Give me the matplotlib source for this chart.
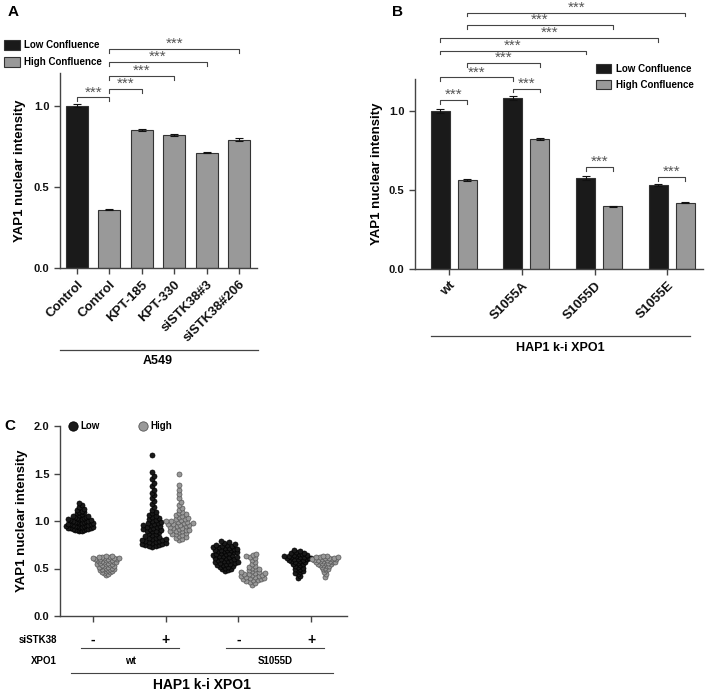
import numpy as np
import matplotlib
matplotlib.use("Agg")
import matplotlib.pyplot as plt
from matplotlib.patches import Rectangle
from matplotlib.lines import Line2D
import matplotlib.transforms as mtransforms

plt.rcParams['font.family'] = ['Liberation Sans', 'DejaVu Sans']
plt.rcParams['font.weight'] = 'bold'

# ---------------- data ----------------
# panel A
a_labels = ["Control", "Control", "KPT-185", "KPT-330", "siSTK38#3", "siSTK38#206"]
a_values = [1.0, 0.36, 0.85, 0.82, 0.71, 0.79]
a_errors = [0.010, 0.005, 0.006, 0.006, 0.005, 0.007]
a_is_low = [True, False, False, False, False, False]

# panel B
b_groups = ["wt", "S1055A", "S1055D", "S1055E"]
b_low = [1.0, 1.08, 0.575, 0.53]
b_low_err = [0.012, 0.012, 0.013, 0.008]
b_high = [0.56, 0.82, 0.395, 0.42]
b_high_err = [0.006, 0.008, 0.003, 0.004]

# panel C (single-cell values)
c_groups = ["wt -", "wt +", "S1055D -", "S1055D +"]
c_sirna = ["-", "+", "-", "+"]
c_low = [
    [0.90, 0.90, 0.91, 0.91, 0.91, 0.92, 0.92, 0.92, 0.93, 0.93, 0.93, 0.94, 0.94, 0.94,
     0.95, 0.95, 0.95, 0.95, 0.96, 0.96, 0.96, 0.97, 0.97, 0.97, 0.98, 0.98, 0.98, 0.99,
     0.99, 0.99, 1.00, 1.00, 1.00, 1.01, 1.01, 1.02, 1.02, 1.02, 1.03, 1.03, 1.04, 1.04,
     1.05, 1.05, 1.06, 1.07, 1.08, 1.09, 1.10, 1.11, 1.12, 1.13, 1.15, 1.17, 1.19],
    [0.73, 0.74, 0.74, 0.75, 0.75, 0.76, 0.76, 0.77, 0.77, 0.78, 0.78, 0.79, 0.79, 0.80,
     0.80, 0.81, 0.81, 0.82, 0.82, 0.83, 0.84, 0.85, 0.86, 0.87, 0.88, 0.89, 0.90, 0.90,
     0.91, 0.92, 0.92, 0.93, 0.94, 0.94, 0.95, 0.96, 0.96, 0.97, 0.98, 0.98, 0.99, 1.00,
     1.01, 1.02, 1.03, 1.04, 1.05, 1.06, 1.08, 1.10, 1.12, 1.15, 1.18, 1.21, 1.24, 1.27,
     1.30, 1.33, 1.37, 1.40, 1.44, 1.47, 1.52, 1.69],
    [0.47, 0.48, 0.49, 0.50, 0.51, 0.52, 0.52, 0.53, 0.54, 0.54, 0.55, 0.55, 0.56, 0.56,
     0.57, 0.57, 0.58, 0.58, 0.59, 0.59, 0.60, 0.60, 0.61, 0.61, 0.62, 0.62, 0.63, 0.63,
     0.64, 0.64, 0.65, 0.65, 0.66, 0.66, 0.67, 0.67, 0.68, 0.68, 0.69, 0.69, 0.70, 0.70,
     0.71, 0.71, 0.72, 0.72, 0.73, 0.73, 0.74, 0.74, 0.75, 0.75, 0.76, 0.77, 0.78, 0.79],
    [0.40, 0.42, 0.44, 0.45, 0.46, 0.47, 0.48, 0.49, 0.50, 0.51, 0.52, 0.53, 0.54, 0.55,
     0.55, 0.56, 0.57, 0.57, 0.58, 0.58, 0.59, 0.59, 0.60, 0.60, 0.60, 0.61, 0.61, 0.61,
     0.62, 0.62, 0.62, 0.63, 0.63, 0.63, 0.64, 0.64, 0.65, 0.65, 0.66, 0.66, 0.67, 0.68,
     0.69],
]
c_high = [
    [0.43, 0.44, 0.45, 0.46, 0.46, 0.47, 0.47, 0.48, 0.48, 0.49, 0.49, 0.50, 0.50, 0.51,
     0.51, 0.52, 0.52, 0.52, 0.53, 0.53, 0.54, 0.54, 0.55, 0.55, 0.55, 0.56, 0.56, 0.57,
     0.57, 0.57, 0.58, 0.58, 0.58, 0.59, 0.59, 0.59, 0.60, 0.60, 0.60, 0.60, 0.61, 0.61,
     0.61, 0.61, 0.62, 0.62, 0.62, 0.63, 0.63],
    [0.80, 0.81, 0.82, 0.83, 0.84, 0.85, 0.86, 0.86, 0.87, 0.88, 0.89, 0.89, 0.90, 0.91,
     0.91, 0.92, 0.93, 0.93, 0.94, 0.95, 0.95, 0.96, 0.96, 0.97, 0.97, 0.98, 0.98, 0.99,
     0.99, 1.00, 1.00, 1.01, 1.02, 1.02, 1.03, 1.04, 1.05, 1.06, 1.07, 1.08, 1.10, 1.12,
     1.14, 1.17, 1.20, 1.24, 1.28, 1.33, 1.38, 1.49],
    [0.33, 0.35, 0.36, 0.37, 0.38, 0.38, 0.39, 0.39, 0.40, 0.40, 0.41, 0.41, 0.42, 0.42,
     0.43, 0.43, 0.44, 0.44, 0.45, 0.45, 0.46, 0.46, 0.47, 0.48, 0.49, 0.50, 0.51, 0.52,
     0.53, 0.55, 0.57, 0.59, 0.61, 0.62, 0.63, 0.64, 0.65],
    [0.41, 0.44, 0.46, 0.48, 0.49, 0.50, 0.51, 0.52, 0.53, 0.53, 0.54, 0.54, 0.55, 0.55,
     0.56, 0.56, 0.56, 0.57, 0.57, 0.57, 0.58, 0.58, 0.58, 0.59, 0.59, 0.59, 0.60, 0.60,
     0.60, 0.60, 0.61, 0.61, 0.61, 0.62, 0.62, 0.62, 0.63, 0.63],
]

DARK = "#1a1a1a"
GREY = "#999999"
EDGE = "#333333"
LINE = "#444444"

W, H = 708, 694
fig = plt.figure(figsize=(W / 100, H / 100), dpi=100)


def rect(x0, y0, x1, y1):
    # pixel box -> figure fraction [left, bottom, width, height]
    return [x0 / W, 1 - y1 / H, (x1 - x0) / W, (y1 - y0) / H]


def fx(x):
    return x / W


def fy(y):
    return 1 - y / H


def style_axes(ax):
    for s in ["top", "right"]:
        ax.spines[s].set_visible(False)
    for s in ["left", "bottom"]:
        ax.spines[s].set_color(LINE)
        ax.spines[s].set_linewidth(1.0)
    ax.tick_params(colors=LINE, labelcolor="#111111", width=1.0, length=4, labelsize=8)


def bracket(ax, x1, x2, y, h=0.025):
    ax.plot([x1, x1, x2, x2], [y - h, y, y, y - h], color=LINE, lw=0.8, clip_on=False)
    ax.text((x1 + x2) / 2, y - 0.012, "***", ha="center", va="bottom", fontsize=11,
            color="#555555", fontweight="normal")


def swarm_offsets(values, ppu_y, dmin=3.2, step=1.2, max_half=13.5):
    # simple beeswarm layout in pixels; returns x offsets in pixels
    vals = np.asarray(values, dtype=float)
    ys = vals * ppu_y
    xs = np.zeros(len(vals))
    placed = []
    for idx in np.argsort(vals):
        y = ys[idx]
        near = [(px, py) for px, py in placed if abs(py - y) < dmin]
        k = 0
        while True:
            cands = [0.0] if k == 0 else [k * step, -k * step]
            ok = None
            for c in cands:
                if all((c - px) ** 2 + (y - py) ** 2 >= dmin ** 2 for px, py in near):
                    ok = c
                    break
            if ok is not None:
                xs[idx] = ok
                placed.append((ok, y))
                break
            k += 1
    m = np.abs(xs).max()
    if m > max_half:
        xs *= max_half / m
    return xs


# ---------------- panel A ----------------
axA = fig.add_axes(rect(60, 73, 257, 268))
xa = np.arange(len(a_values))
colors_a = [DARK if low else GREY for low in a_is_low]
axA.bar(xa, a_values, width=0.68, color=colors_a, edgecolor=EDGE, linewidth=0.8,
        yerr=a_errors, error_kw=dict(ecolor="#111111", elinewidth=0.8, capsize=3, capthick=0.8))
axA.set_xlim(-0.52, 5.55)
axA.set_ylim(0, 1.2)
axA.set_yticks([0.0, 0.5, 1.0])
axA.set_yticklabels(["0.0", "0.5", "1.0"], fontweight="bold")
axA.set_xticks(xa)
axA.set_xticklabels(a_labels, rotation=45, ha="right", rotation_mode="anchor",
                    fontsize=9.5, fontweight="bold")
style_axes(axA)
axA.tick_params(axis="x", labelsize=9.5)
axA.set_ylabel("YAP1 nuclear intensity", fontsize=9.5, fontweight="bold", labelpad=6)

bracket(axA, 0, 1, 1.05)
bracket(axA, 1, 2, 1.10)
bracket(axA, 1, 3, 1.18)
bracket(axA, 1, 4, 1.27)
bracket(axA, 1, 5, 1.35)

fig.text(fx(8), fy(5), "A", fontsize=11, fontweight="bold", va="top")
# legend A
fig.add_artist(Rectangle((fx(4), fy(50)), 16 / W, 10 / H, facecolor=DARK, edgecolor=EDGE,
                         lw=0.8, transform=fig.transFigure))
fig.add_artist(Rectangle((fx(4), fy(67)), 16 / W, 10 / H, facecolor=GREY, edgecolor=EDGE,
                         lw=0.8, transform=fig.transFigure))
fig.text(fx(24), fy(45), "Low Confluence", fontsize=7, fontweight="bold", va="center")
fig.text(fx(24), fy(62), "High Confluence", fontsize=7, fontweight="bold", va="center")
fig.add_artist(Line2D([fx(60), fx(258)], [fy(350), fy(350)], color=LINE, lw=0.9))
fig.text(fx(158), fy(355), "A549", fontsize=9, fontweight="bold", ha="center", va="top")

# ---------------- panel B ----------------
axB = fig.add_axes(rect(415, 79, 703, 269))
xb = np.arange(len(b_groups))
off_low, off_high, bw = -0.124, 0.248, 0.26
axB.bar(xb + off_low, b_low, width=bw, color=DARK, edgecolor=EDGE, linewidth=0.8,
        yerr=b_low_err, error_kw=dict(ecolor="#111111", elinewidth=0.8, capsize=3, capthick=0.8))
axB.bar(xb + off_high, b_high, width=bw, color=GREY, edgecolor=EDGE, linewidth=0.8,
        yerr=b_high_err, error_kw=dict(ecolor="#111111", elinewidth=0.8, capsize=3, capthick=0.8))
axB.set_xlim(-0.47, 3.49)
axB.set_ylim(0, 1.2)
axB.set_yticks([0.0, 0.5, 1.0])
axB.set_yticklabels(["0.0", "0.5", "1.0"], fontweight="bold")
axB.set_xticks(xb)
axB.set_xticklabels(b_groups, rotation=45, ha="right", rotation_mode="anchor",
                    fontsize=9.5, fontweight="bold")
style_axes(axB)
axB.tick_params(axis="x", labelsize=9.5)
axB.set_ylabel("YAP1 nuclear intensity", fontsize=9.5, fontweight="bold", labelpad=4)

bl = xb + off_low
bh = xb + off_high
bracket(axB, bl[0], bh[0], 1.065)
bracket(axB, bl[1], bh[1], 1.14)
bracket(axB, bl[0], bl[1], 1.21)
bracket(axB, bh[0], bh[1], 1.30)
bracket(axB, bl[0], bl[2], 1.38)
bracket(axB, bl[0], bl[3], 1.46)
bracket(axB, bh[0], bh[2], 1.54)
bracket(axB, bh[0], bh[3], 1.62)
bracket(axB, bl[2], bh[2], 0.646)
bracket(axB, bl[3], bh[3], 0.58)

fig.text(fx(392), fy(5), "B", fontsize=11, fontweight="bold", va="top")
fig.add_artist(Rectangle((fx(596), fy(73)), 15 / W, 9 / H, facecolor=DARK, edgecolor=EDGE,
                         lw=0.8, transform=fig.transFigure))
fig.add_artist(Rectangle((fx(596), fy(89)), 15 / W, 9 / H, facecolor=GREY, edgecolor=EDGE,
                         lw=0.8, transform=fig.transFigure))
fig.text(fx(616), fy(68.5), "Low Confluence", fontsize=7, fontweight="bold", va="center")
fig.text(fx(616), fy(84.5), "High Confluence", fontsize=7, fontweight="bold", va="center")
fig.add_artist(Line2D([fx(431), fx(690)], [fy(336), fy(336)], color=LINE, lw=0.9))
fig.text(fx(560), fy(342), "HAP1 k-i XPO1", fontsize=9, fontweight="bold", ha="center", va="top")

# ---------------- panel C ----------------
axC = fig.add_axes(rect(60, 426, 347, 616))
axC.set_xlim(-0.45, 3.49)
axC.set_ylim(0, 2.0)
ppu_x = 287 / (3.49 + 0.45)
ppu_y = 190 / 2.0
dodge = 0.185
for i in range(len(c_groups)):
    for vals, sign, fc, ec in [(c_low[i], -1, DARK, "#000000"), (c_high[i], 1, GREY, "#555555")]:
        xo = swarm_offsets(vals, ppu_y) / ppu_x
        axC.scatter(i + sign * dodge + xo, vals, s=13, color=fc, edgecolor=ec, lw=0.5, zorder=3)
axC.set_yticks([0.0, 0.5, 1.0, 1.5, 2.0])
axC.set_yticklabels(["0.0", "0.5", "1.0", "1.5", "2.0"], fontweight="bold")
axC.set_xticks(range(4))
axC.set_xticklabels([])
style_axes(axC)
axC.set_ylabel("YAP1 nuclear intensity", fontsize=9.5, fontweight="bold", labelpad=4)

axC.scatter([0.045], [1.0], s=45, color=DARK, edgecolor="#000000", lw=0.6,
            transform=axC.transAxes, clip_on=False)
axC.scatter([0.289], [1.0], s=45, color=GREY, edgecolor="#555555", lw=0.6,
            transform=axC.transAxes, clip_on=False)
axC.text(0.07, 1.0, "Low", transform=axC.transAxes, fontsize=7, fontweight="bold", va="center")
axC.text(0.314, 1.0, "High", transform=axC.transAxes, fontsize=7, fontweight="bold", va="center")
fig.text(fx(4), fy(419), "C", fontsize=11, fontweight="bold", va="top")

# treatment table below C
trC = mtransforms.blended_transform_factory(axC.transData, fig.transFigure)
for i, s in enumerate(c_sirna):
    fig.text(i, fy(640), s, transform=trC, fontsize=10, fontweight="bold", ha="center", va="center")
fig.text(fx(57), fy(640), "siSTK38", fontsize=7, fontweight="bold", ha="right", va="center")
fig.text(fx(57), fy(661), "XPO1", fontsize=7, fontweight="bold", ha="right", va="center")
fig.add_artist(Line2D([fx(81), fx(179)], [fy(648), fy(648)], color=LINE, lw=0.8))
fig.add_artist(Line2D([fx(226), fx(324)], [fy(648), fy(648)], color=LINE, lw=0.8))
fig.text(fx(130), fy(661), "wt", fontsize=7, fontweight="bold", ha="center", va="center")
fig.text(fx(275), fy(661), "S1055D", fontsize=7, fontweight="bold", ha="center", va="center")
fig.add_artist(Line2D([fx(71), fx(333)], [fy(673), fy(673)], color=LINE, lw=0.8))
fig.text(fx(202), fy(685), "HAP1 k-i XPO1", fontsize=10, fontweight="bold", ha="center", va="center")

fig.savefig("out.png", dpi=100)
